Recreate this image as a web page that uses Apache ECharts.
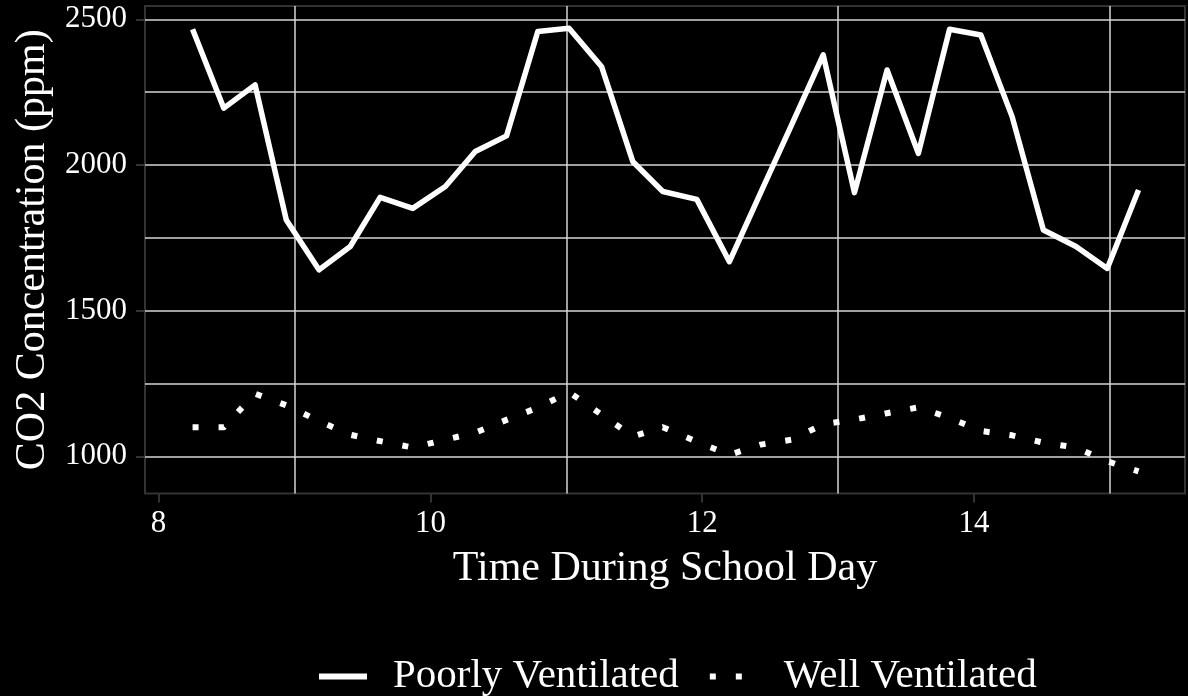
<!DOCTYPE html>
<html>
<head>
<meta charset="utf-8">
<script src="https://cdn.jsdelivr.net/npm/echarts@6/dist/echarts.min.js"></script>
<style>
  html, body { margin: 0; padding: 0; background: #000; }
  #chart { width: 1188px; height: 696px; }
</style>
</head>
<body>
<div id="chart"></div>
<script>
// time of day (hours)
const hours = [8.25, 8.48, 8.71, 8.94, 9.18, 9.41, 9.63, 9.87, 10.11, 10.33, 10.56,
  10.79, 11.02, 11.26, 11.49, 11.71, 11.96, 12.20, 12.43, 12.66, 12.89, 13.12,
  13.36, 13.59, 13.82, 14.05, 14.28, 14.51, 14.75, 14.98, 15.21];
// CO2 ppm, poorly ventilated room
const poorlyVentilated = [2466, 2195, 2275, 1811, 1640, 1720, 1889, 1851, 1926, 2046, 2100,
  2458, 2469, 2337, 2011, 1909, 1882, 1668, 1905, 2140, 2378, 1905,
  2326, 2040, 2466, 2446, 2166, 1777, 1720, 1645, 1914];
// CO2 ppm, well ventilated room
const wellVentilated = [1100, 1100, 1215, 1175, 1121, 1074, 1052, 1030, 1057, 1081, 1125,
  1167, 1220, 1143, 1068, 1100, 1050, 1005, 1040, 1057, 1110, 1126,
  1148, 1168, 1132, 1087, 1072, 1047, 1030, 983, 948];

const xTicks = [8, 10, 12, 14];
const xGrid = [9, 11, 13, 15];
const yTicks = [1000, 1500, 2000, 2500];
const yMinorGrid = [1250, 1750, 2250];

const FONT = 'Liberation Serif';
const BORDER = '#333333';
const GRID = '#d6d6d6';

const chart = echarts.init(document.getElementById('chart'));

function pairs(ys) {
  return hours.map((h, i) => [h, ys[i]]);
}

const xRange = { min: 7.9, max: 15.552 };
const yRange = { min: 872.3, max: 2545.7 };

chart.setOption({
  backgroundColor: '#000',
  animation: false,
  grid: {
    left: 145, right: 3, top: 6, bottom: 202.5,
    show: true, borderColor: BORDER, borderWidth: 2, backgroundColor: '#000'
  },
  xAxis: [
    {
      type: 'value', ...xRange,
      name: 'Time During School Day',
      nameLocation: 'middle',
      nameGap: 54,
      nameTextStyle: { fontFamily: FONT, fontSize: 42, color: '#fff' },
      axisLine: { show: false },
      axisTick: { show: true, customValues: xTicks, length: 9, lineStyle: { color: BORDER, width: 2 } },
      axisLabel: {
        customValues: xTicks, margin: 15, fontFamily: FONT, fontSize: 31, color: '#fff',
        formatter: v => String(v)
      },
      splitLine: { show: false }
    },
    {
      type: 'value', ...xRange, position: 'bottom',
      axisLine: { show: false },
      axisTick: { show: false, customValues: xGrid },
      axisLabel: { show: false, customValues: xGrid },
      splitLine: { show: true, lineStyle: { color: GRID, width: 1.5 } }
    }
  ],
  yAxis: [
    {
      type: 'value', ...yRange,
      name: 'CO2 Concentration (ppm)',
      nameLocation: 'middle',
      nameGap: 85,
      nameRotate: 90,
      nameTextStyle: { fontFamily: FONT, fontSize: 42, color: '#fff' },
      axisLine: { show: false },
      axisTick: { show: true, customValues: yTicks, length: 9, lineStyle: { color: BORDER, width: 2 } },
      axisLabel: {
        customValues: yTicks, margin: 18, fontFamily: FONT, fontSize: 31, color: '#fff',
        formatter: v => String(v)
      },
      splitLine: { show: true, lineStyle: { color: GRID, width: 1.5 } }
    },
    {
      type: 'value', ...yRange, position: 'left',
      axisLine: { show: false },
      axisTick: { show: false, customValues: yMinorGrid },
      axisLabel: { show: false, customValues: yMinorGrid },
      splitLine: { show: true, lineStyle: { color: GRID, width: 1.5 } }
    }
  ],
  legend: {
    left: 311,
    top: 651,
    itemWidth: 48,
    itemHeight: 20,
    itemGap: 28,
    itemStyle: { opacity: 0 },
    lineStyle: { width: 6 },
    textStyle: { fontFamily: FONT, fontSize: 41, color: '#fff', padding: [0, 0, 0, 21] },
    data: ['Poorly Ventilated', 'Well Ventilated']
  },
  series: [
    {
      name: 'Poorly Ventilated',
      type: 'line',
      data: pairs(poorlyVentilated),
      symbol: 'none',
      lineStyle: { color: '#fff', width: 5.5, cap: 'butt', join: 'round' },
      itemStyle: { color: '#fff' },
      z: 5
    },
    {
      name: 'Well Ventilated',
      type: 'line',
      data: pairs(wellVentilated),
      symbol: 'none',
      lineStyle: { color: '#fff', width: 6, type: [6, 20], cap: 'butt', join: 'round' },
      itemStyle: { color: '#fff' },
      z: 5
    }
  ]
});
</script>
</body>
</html>
